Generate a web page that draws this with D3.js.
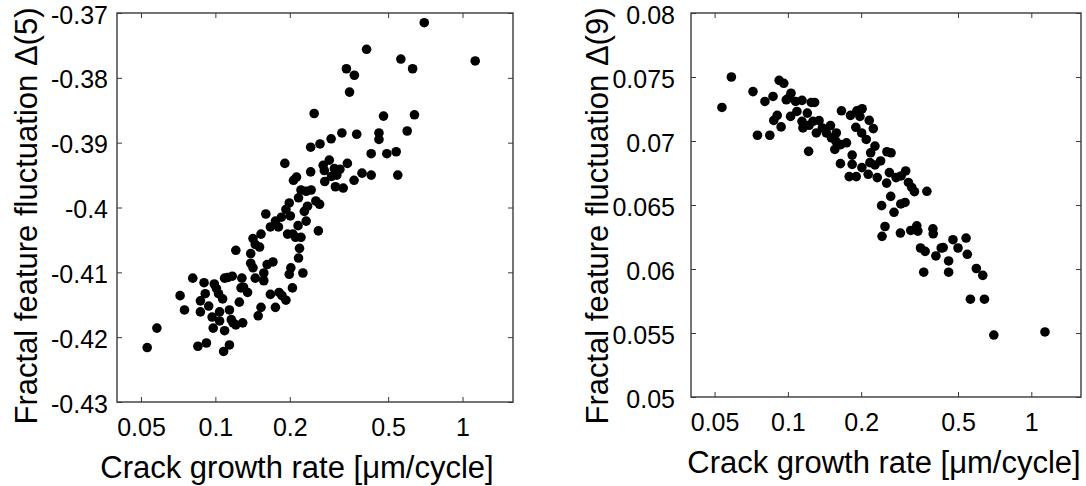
<!DOCTYPE html>
<html>
<head>
<meta charset="utf-8">
<script src="https://cdn.jsdelivr.net/npm/d3@7"></script>
<style>
html, body { margin: 0; padding: 0; background: #fff; }
svg { display: block; font-family: "Liberation Sans", Arial, Helvetica, sans-serif; }
</style>
</head>
<body>
<svg id="chart" width="1086" height="486"></svg>
<script>
// tick values
var rateTicks = [0.05, 0.1, 0.2, 0.5, 1];
var delta5Ticks = [-0.43, -0.42, -0.41, -0.4, -0.39, -0.38, -0.37];
var delta9Ticks = [0.05, 0.055, 0.06, 0.065, 0.07, 0.075, 0.08];

// left panel: crack growth rate [um/cycle] vs fractal feature fluctuation delta(5)
var rate5 = [
  0.700, 0.409, 0.563, 1.125, 0.339, 0.628, 0.365, 0.349, 0.251, 0.479,
  0.639, 0.597, 0.325, 0.373, 0.459, 0.459, 0.294, 0.265, 0.243, 0.427,
  0.494, 0.539, 0.191, 0.289, 0.273, 0.342, 0.276, 0.303, 0.319, 0.295,
  0.310, 0.243, 0.392, 0.427, 0.547, 0.213, 0.207, 0.277, 0.364, 0.306,
  0.329, 0.222, 0.233, 0.244, 0.217, 0.199, 0.255, 0.264, 0.236, 0.193,
  0.229, 0.160, 0.201, 0.185, 0.175, 0.167, 0.180, 0.233, 0.216, 0.261,
  0.153, 0.196, 0.206, 0.222, 0.142, 0.211, 0.145, 0.151, 0.121, 0.139,
  0.219, 0.217, 0.139, 0.142, 0.171, 0.162, 0.157, 0.157, 0.145, 0.202,
  0.199, 0.226, 0.205, 0.128, 0.109, 0.112, 0.117, 0.081, 0.090, 0.099,
  0.101, 0.103, 0.107, 0.091, 0.087, 0.072, 0.075, 0.087, 0.094, 0.097,
  0.104, 0.104, 0.114, 0.098, 0.109, 0.116, 0.118, 0.129, 0.121, 0.125,
  0.130, 0.135, 0.127, 0.167, 0.153, 0.149, 0.175, 0.181, 0.186, 0.193,
  0.058, 0.053, 0.085, 0.092, 0.114, 0.108
];
var delta5 = [
  -0.3715, -0.3756, -0.3771, -0.3774, -0.3786, -0.3786, -0.3796, -0.3822, -0.3855, -0.3859,
  -0.3857, -0.3882, -0.3885, -0.3887, -0.3885, -0.3895, -0.3894, -0.3902, -0.3907, -0.3917,
  -0.3917, -0.3914, -0.3932, -0.3927, -0.3935, -0.3932, -0.3943, -0.3940, -0.3941, -0.3952,
  -0.3950, -0.3945, -0.3947, -0.3950, -0.3950, -0.3953, -0.3958, -0.3960, -0.3958, -0.3968,
  -0.3970, -0.3973, -0.3975, -0.3973, -0.3985, -0.3993, -0.3990, -0.3995, -0.3998, -0.4003,
  -0.4006, -0.4010, -0.4013, -0.4015, -0.4021, -0.4030, -0.4030, -0.4021, -0.4028, -0.4036,
  -0.4041, -0.4041, -0.4041, -0.4046, -0.4048, -0.4046, -0.4057, -0.4061, -0.4066, -0.4071,
  -0.4063, -0.4078, -0.4086, -0.4093, -0.4084, -0.4088, -0.4101, -0.4113, -0.4109, -0.4093,
  -0.4103, -0.4101, -0.4124, -0.4109, -0.4109, -0.4108, -0.4106, -0.4109, -0.4116, -0.4118,
  -0.4125, -0.4133, -0.4141, -0.4133, -0.4144, -0.4136, -0.4158, -0.4161, -0.4152, -0.4169,
  -0.4161, -0.4175, -0.4158, -0.4186, -0.4190, -0.4173, -0.4178, -0.4178, -0.4181, -0.4146,
  -0.4123, -0.4131, -0.4124, -0.4134, -0.4154, -0.4167, -0.4154, -0.4131, -0.4136, -0.4143,
  -0.4186, -0.4216, -0.4214, -0.4209, -0.4212, -0.4222
];

// right panel: crack growth rate [um/cycle] vs fractal feature fluctuation delta(9)
var rate9 = [
  0.0536, 0.0586, 0.0719, 0.0750, 0.0805, 0.0869, 0.0843, 0.0921, 0.0962, 0.0875,
  0.0904, 0.0938, 0.0985, 0.1030, 0.1007, 0.1076, 0.1026, 0.1089, 0.1143, 0.1202,
  0.1143, 0.1153, 0.1217, 0.1248, 0.1288, 0.1222, 0.1268, 0.1343, 0.1309, 0.1386,
  0.1439, 0.1496, 0.1510, 0.1581, 0.1574, 0.1559, 0.1649, 0.1741, 0.1644, 0.1837,
  0.1837, 0.1786, 0.1909, 0.2014, 0.2138, 0.1660, 0.1808, 0.1920, 0.2018, 0.1977,
  0.2159, 0.2244, 0.1902, 0.2009, 0.2099, 0.2279, 0.2188, 0.2553, 0.2654, 0.2173,
  0.2279, 0.2404, 0.2329, 0.2545, 0.2612, 0.2782, 0.3048, 0.2917, 0.3128, 0.3227,
  0.3311, 0.3724, 0.2645, 0.2427, 0.2910, 0.3029, 0.2729, 0.2506, 0.2437, 0.2899,
  0.3197, 0.3385, 0.3420, 0.3942, 0.3954, 0.3507, 0.3664, 0.3614, 0.4055, 0.4265,
  0.4345, 0.4574, 0.4574, 0.4766, 0.5000, 0.5395, 0.5459, 0.5945, 0.6318, 0.5620,
  0.6418, 0.7015, 1.138
];
var delta9 = [
  0.07262, 0.07500, 0.07386, 0.07045, 0.07309, 0.07348, 0.07045, 0.07474, 0.07451, 0.07161,
  0.07200, 0.07110, 0.07322, 0.07373, 0.07335, 0.07309, 0.07192, 0.07231, 0.07317, 0.07218,
  0.07154, 0.07102, 0.06919, 0.07301, 0.07301, 0.07123, 0.07154, 0.07159, 0.07063, 0.07102,
  0.07063, 0.07120, 0.07025, 0.07063, 0.06999, 0.06934, 0.06972, 0.06986, 0.06823, 0.06890,
  0.06817, 0.06722, 0.06722, 0.06792, 0.06740, 0.07236, 0.07200, 0.07236, 0.07252, 0.07192,
  0.07161, 0.07097, 0.07107, 0.07063, 0.07012, 0.06960, 0.06908, 0.06916, 0.06908, 0.06831,
  0.06813, 0.06844, 0.06714, 0.06671, 0.06753, 0.06714, 0.06766, 0.06727, 0.06676, 0.06637,
  0.06604, 0.06607, 0.06567, 0.06495, 0.06508, 0.06520, 0.06443, 0.06332, 0.06255, 0.06281,
  0.06301, 0.06337, 0.06296, 0.06314, 0.06275, 0.06164, 0.06138, 0.05975, 0.06102, 0.06164,
  0.06167, 0.06063, 0.05975, 0.06229, 0.06164, 0.06242, 0.06115, 0.06004, 0.05950, 0.05764,
  0.05764, 0.05484, 0.05508
];

var rateDomain = [0.04, 1.6],
  xLabel = "Crack growth rate [\u03bcm/cycle]",
  tickLen = 5,
  tickFont = 25,
  labelFont = 31,
  boxColor = "#3a3a3a";

var panels = [
  {
    box: {left: 117, top: 13, right: 513, bottom: 402},
    yDomain: [-0.43, -0.37],
    yTicks: delta5Ticks,
    rate: rate5,
    delta: delta5,
    yLabel: "Fractal feature fluctuation \u0394(5)",
    yPad: 9,
    yLabelPos: [37, 216],
    xLabelX: 297
  },
  {
    box: {left: 691, top: 13, right: 1081, bottom: 397},
    yDomain: [0.05, 0.08],
    yTicks: delta9Ticks,
    rate: rate9,
    delta: delta9,
    yLabel: "Fractal feature fluctuation \u0394(9)",
    yPad: 16,
    yLabelPos: [608, 216],
    xLabelX: 884
  }
];

var svg = d3.select("#chart");

var styleAxis = function(g, showText) {
  g.attr("font-size", null).attr("font-family", null).attr("color", boxColor);
  g.select(".domain").remove();
  g.selectAll(".tick line").attr("stroke-width", 1);
  g.selectAll("text")
    .attr("fill", "#000")
    .style("font-size", tickFont + "px");
  if (!showText) g.selectAll("text").remove();
};

var fmt = function(d) { return String(+d.toFixed(4)); };

panels.forEach(function(p) {
  var b = p.box,
    w = b.right - b.left,
    h = b.bottom - b.top,
    x = d3.scaleLog().domain(rateDomain).range([0, w]),
    y = d3.scaleLinear().domain(p.yDomain).range([h, 0]),
    g = svg.append("g").attr("transform", "translate(" + b.left + "," + b.top + ")"),
    pts = p.rate.map(function(r, i) { return {rate: r, delta: p.delta[i]}; });

  g.append("g")
    .attr("transform", "translate(0," + h + ")")
    .call(d3.axisBottom(x).tickValues(rateTicks).tickFormat(fmt)
      .tickSizeInner(-tickLen).tickSizeOuter(0).tickPadding(16))
    .call(styleAxis, true);

  g.append("g")
    .call(d3.axisTop(x).tickValues(rateTicks).tickSizeInner(-tickLen).tickSizeOuter(0))
    .call(styleAxis, false);

  g.append("g")
    .call(d3.axisLeft(y).tickValues(p.yTicks).tickFormat(fmt)
      .tickSizeInner(-tickLen).tickSizeOuter(0).tickPadding(p.yPad))
    .call(styleAxis, true)
    .selectAll("text")
    .attr("dy", "0.4em");

  g.append("g")
    .attr("transform", "translate(" + w + ",0)")
    .call(d3.axisRight(y).tickValues(p.yTicks).tickSizeInner(-tickLen).tickSizeOuter(0))
    .call(styleAxis, false);

  g.append("rect")
    .attr("width", w)
    .attr("height", h)
    .attr("fill", "none")
    .attr("stroke", boxColor)
    .attr("stroke-width", 1.4);

  g.append("g")
    .selectAll("circle")
    .data(pts)
    .join("circle")
    .attr("cx", function(d) { return x(d.rate); })
    .attr("cy", function(d) { return y(d.delta); })
    .attr("r", 4.8)
    .attr("fill", "#000");

  svg.append("text")
    .attr("x", p.xLabelX)
    .attr("y", b.bottom + 76)
    .attr("text-anchor", "middle")
    .style("font-size", labelFont + "px")
    .text(xLabel);

  svg.append("text")
    .attr("transform", "translate(" + p.yLabelPos[0] + "," + p.yLabelPos[1] + ") rotate(-90)")
    .attr("text-anchor", "middle")
    .style("font-size", labelFont + "px")
    .text(p.yLabel);
});
</script>
</body>
</html>
